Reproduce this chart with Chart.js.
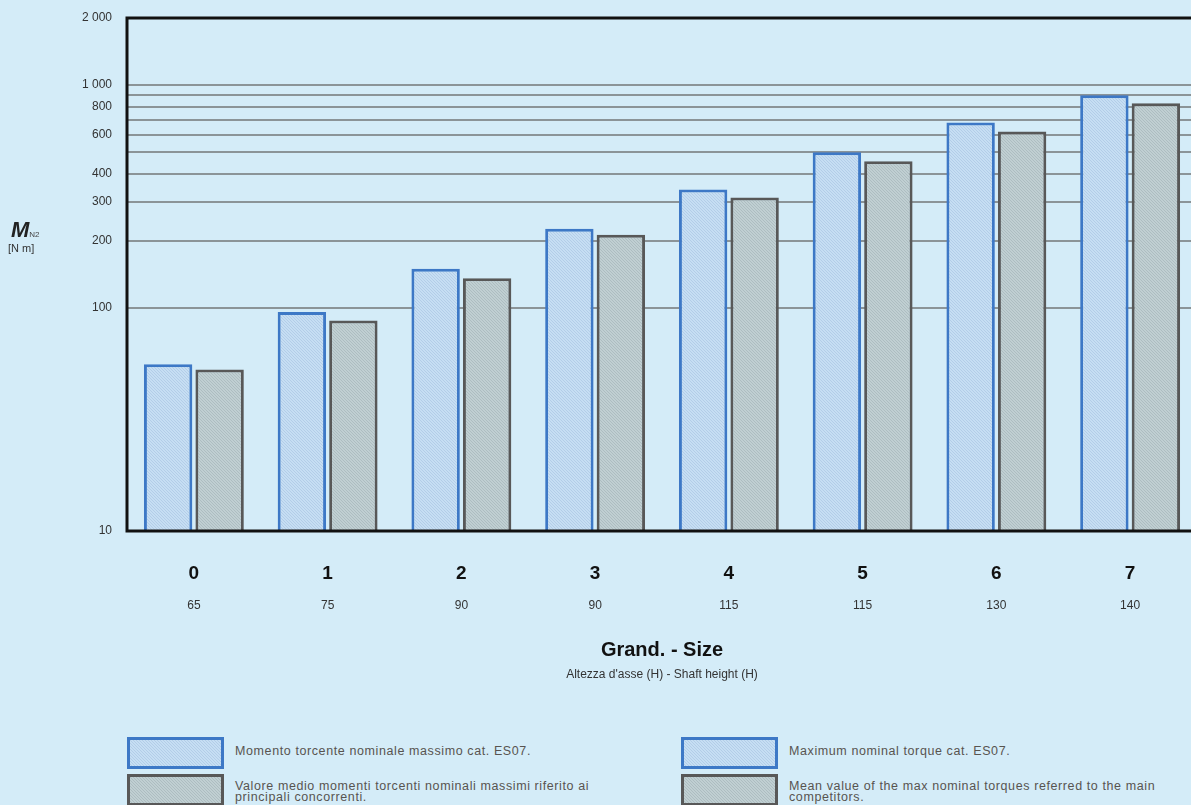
<!DOCTYPE html>
<html>
<head>
<meta charset="utf-8">
<script src="https://cdn.jsdelivr.net/npm/chart.js@4.4.1/dist/chart.umd.min.js"></script>
<style>
  html, body { margin: 0; padding: 0; width: 1191px; height: 805px; overflow: hidden; background: #d4ecf8; font-family: 'Liberation Sans', Arial, sans-serif; }
  #wrap { position: absolute; left: 0; top: 0; width: 1210px; height: 700px; }
  #ytitle { position: absolute; left: 11px; top: 219px; color: #222; line-height: 1; }
  #ytitle .m { font-size: 22px; font-weight: bold; font-style: italic; }
  #ytitle .sub { font-size: 8px; color: #444; }
  #ytitle .unit { display: block; font-size: 11px; margin-top: 2px; margin-left: -3px; color: #333; }
  .leg { position: absolute; font-size: 12.5px; letter-spacing: 0.6px; color: #585450; line-height: 11px; }
  .box { position: absolute; width: 97px; height: 32px; box-sizing: border-box; border: 3px solid; }
  .txt { position: absolute; width: 380px; }
</style>
</head>
<body>
<div id="wrap"><canvas id="chart"></canvas></div>
<div id="ytitle"><span class="m">M</span><span class="sub">N2</span><span class="unit">[N m]</span></div>

<div class="leg" style="left:127px; top:737px;">
  <div class="box blue" style="left:0; top:0;"></div>
  <div class="txt" style="left:108px; top:9px;">Momento torcente nominale massimo cat. ES07.</div>
  <div class="box grey" style="left:0; top:37px;"></div>
  <div class="txt" style="left:108px; top:44px; width:360px;">Valore medio momenti torcenti nominali massimi riferito ai principali concorrenti.</div>
</div>
<div class="leg" style="left:681px; top:737px;">
  <div class="box blue" style="left:0; top:0;"></div>
  <div class="txt" style="left:108px; top:9px;">Maximum nominal torque cat. ES07.</div>
  <div class="box grey" style="left:0; top:37px;"></div>
  <div class="txt" style="left:108px; top:44px; width:380px;">Mean value of the max nominal torques referred to the main competitors.</div>
</div>

<script>
// ── Data ──────────────────────────────────────────────────────────
const sizes = ['0', '1', '2', '3', '4', '5', '6', '7'];
const shaftHeights = ['65', '75', '90', '90', '115', '115', '130', '140'];
const torqueES07 = [56, 96, 150, 227, 340, 500, 680, 900];
const torqueCompetitors = [53, 88, 136, 213, 313, 455, 620, 830];
const yTickValues = [10, 100, 200, 300, 400, 500, 600, 700, 800, 900, 1000, 2000];
const yTickLabelled = [10, 100, 200, 300, 400, 600, 800, 1000, 2000];

const BLUE_EDGE = '#3d78c6';
const GREY_EDGE = '#585858';

// ── Dotted fills ──────────────────────────────────────────────────
function dotTile(base, dot) {
  const c = document.createElement('canvas');
  c.width = 3; c.height = 3;
  const g = c.getContext('2d');
  g.fillStyle = base;
  g.fillRect(0, 0, 3, 3);
  g.fillStyle = dot;
  g.fillRect(0, 0, 1, 1);
  g.fillRect(1, 1, 1, 1);
  g.fillRect(2, 2, 1, 1);
  return c;
}

const blueTile = dotTile('#c6def3', '#b3cde8');
const greyTile = dotTile('#c0cfd2', '#adbdc1');

document.querySelectorAll('.box.blue').forEach(el => {
  el.style.borderColor = BLUE_EDGE;
  el.style.backgroundImage = `url(${blueTile.toDataURL()})`;
});
document.querySelectorAll('.box.grey').forEach(el => {
  el.style.borderColor = GREY_EDGE;
  el.style.backgroundImage = `url(${greyTile.toDataURL()})`;
});

const canvas = document.getElementById('chart');
const ctx = canvas.getContext('2d');

// frame: top, left and bottom lines in black, drawn over the bars
const framePlugin = {
  id: 'frame',
  afterDatasetsDraw(chart) {
    const { ctx, chartArea: a } = chart;
    ctx.save();
    ctx.strokeStyle = '#111';
    ctx.lineWidth = 3;
    ctx.beginPath();
    ctx.moveTo(a.right, a.top);
    ctx.lineTo(a.left, a.top);
    ctx.lineTo(a.left, a.bottom);
    ctx.lineTo(a.right, a.bottom);
    ctx.stroke();
    ctx.restore();
  },
};

function fmtThousands(v) {
  return String(v).replace(/\B(?=(\d{3})+(?!\d))/g, ' ');
}

new Chart(ctx, {
  type: 'bar',
  data: {
    labels: sizes,
    datasets: [
      {
        label: 'Momento torcente nominale massimo cat. ES07',
        data: torqueES07,
        backgroundColor: ctx.createPattern(blueTile, 'repeat'),
        borderColor: BLUE_EDGE,
        borderWidth: 3,
      },
      {
        label: 'Valore medio momenti torcenti nominali massimi',
        data: torqueCompetitors,
        backgroundColor: ctx.createPattern(greyTile, 'repeat'),
        borderColor: GREY_EDGE,
        borderWidth: 3,
      },
    ],
  },
  options: {
    responsive: true,
    maintainAspectRatio: false,
    animation: false,
    categoryPercentage: 0.77,
    barPercentage: 0.94,
    layout: { padding: { top: 18, right: 13, bottom: 14, left: 0 } },
    scales: {
      x: {
        weight: 0,
        afterFit(scale) { scale.height = 60; },
        grid: { display: false, drawTicks: false },
        border: { display: false },
        ticks: {
          padding: 31,
          color: '#111',
          font: { family: 'Liberation Sans', size: 19, weight: 'bold' },
        },
      },
      x2: {
        type: 'category',
        position: 'bottom',
        display: true,
        weight: 1,
        offset: true,
        labels: shaftHeights,
        afterFit(scale) { scale.height = 75; },
        grid: { display: false, drawTicks: false },
        border: { display: false },
        ticks: {
          padding: 7,
          color: '#333',
          font: { family: 'Liberation Sans', size: 12 },
        },
        title: {
          display: true,
          text: 'Grand. - Size',
          color: '#111',
          font: { family: 'Liberation Sans', size: 20, weight: 'bold' },
          padding: { top: 20, bottom: 4 },
        },
      },
      x3: {
        type: 'category',
        position: 'bottom',
        display: true,
        weight: 2,
        offset: true,
        labels: sizes,
        afterFit(scale) { scale.height = 20; },
        grid: { display: false, drawTicks: false },
        border: { display: false },
        ticks: { display: false },
        title: {
          display: true,
          text: "Altezza d'asse (H) - Shaft height (H)",
          color: '#333',
          font: { family: 'Liberation Sans', size: 12 },
          padding: { top: 2, bottom: 4 },
        },
      },
      y: {
        type: 'logarithmic',
        min: 10,
        max: 2000,
        afterBuildTicks(scale) {
          scale.ticks = yTickValues.map(v => ({ value: v }));
        },
        afterFit(scale) {
          scale.width = 127;
          scale.paddingTop = 8;
          scale.paddingBottom = 8;
        },
        grid: {
          drawTicks: false,
          lineWidth: 2,
          color: c => (c.tick && (c.tick.value === 10 || c.tick.value === 2000)) ? 'rgba(0,0,0,0)' : '#8b9498',
        },
        border: { display: false },
        ticks: {
          padding: 15,
          autoSkip: false,
          color: '#333',
          font: { family: 'Liberation Sans', size: 12 },
          callback: v => yTickLabelled.includes(v) ? fmtThousands(v) : '',
        },
      },
    },
    plugins: {
      legend: { display: false },
      tooltip: { enabled: false },
    },
  },
  plugins: [framePlugin],
});
</script>
</body>
</html>
